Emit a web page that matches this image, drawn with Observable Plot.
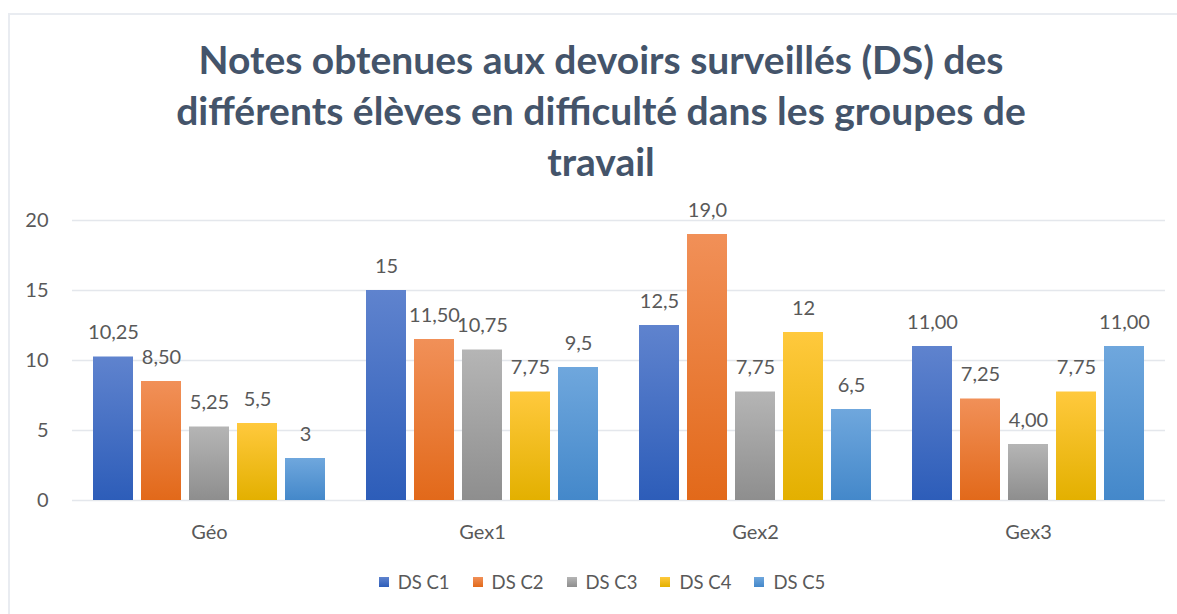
<!DOCTYPE html>
<html>
<head>
<meta charset="utf-8">
<script src="https://cdn.jsdelivr.net/npm/d3@7"></script>
<script src="https://cdn.jsdelivr.net/npm/@observablehq/plot@0.6"></script>
<style>
  html, body { margin: 0; padding: 0; background: #fff; }
  body { width: 1177px; height: 614px; overflow: hidden; position: relative; font-family: Lato, "Open Sans", sans-serif; }
  #frame { position: absolute; left: 8px; top: 13px; width: 1180px; height: 620px; border-left: 2px solid #E9ECF1; border-top: 2px solid #E9ECF1; box-sizing: border-box; }
  #title { position: absolute; left: 0; top: 34px; width: 1177px; padding-left: 25px; box-sizing: border-box; text-align: center; font-weight: 700; font-size: 39px; line-height: 51px; color: #44546A; white-space: nowrap; }
  #grid, #chart { position: absolute; left: 0; top: 190px; }
  #legend { position: absolute; left: 0; top: 571px; width: 1177px; padding-left: 27px; box-sizing: border-box; display: flex; justify-content: center; font-size: 18.5px; color: #595959; }
  .item { display: flex; align-items: center; margin: 0 11.5px; }
  .sw { width: 10px; height: 10px; margin-right: 9px; }
</style>
</head>
<body>
<svg width="0" height="0" style="position:absolute">
  <defs id="grads"></defs>
</svg>
<div id="frame"></div>
<div id="title">Notes obtenues aux devoirs surveillés (DS) des<br>différents élèves en difficulté dans les groupes de<br>travail</div>
<div id="grid"></div>
<div id="chart"></div>
<div id="legend"></div>
<script>
const groups = ["Géo", "Gex1", "Gex2", "Gex3"];
const seriesNames = ["DS C1", "DS C2", "DS C3", "DS C4", "DS C5"];
const dsC1 = [10.25, 15, 12.5, 11];
const dsC2 = [8.5, 11.5, 19, 7.25];
const dsC3 = [5.25, 10.75, 7.75, 4];
const dsC4 = [5.5, 7.75, 12, 7.75];
const dsC5 = [3, 9.5, 6.5, 11];
const labelsC1 = ["10,25", "15", "12,5", "11,00"];
const labelsC2 = ["8,50", "11,50", "19,0", "7,25"];
const labelsC3 = ["5,25", "10,75", "7,75", "4,00"];
const labelsC4 = ["5,5", "7,75", "12", "7,75"];
const labelsC5 = ["3", "9,5", "6,5", "11,00"];
const yTicks = [0, 5, 10, 15, 20];
// gradient stops (top, bottom) per series
const gradTop = ["#5F83CE", "#F19058", "#B5B5B5", "#FFC93D", "#6FA7DD"];
const gradBottom = ["#2D5DB9", "#E2691A", "#8E8E8E", "#E3B000", "#4488CA"];

const values = [dsC1, dsC2, dsC3, dsC4, dsC5];
const labels = [labelsC1, labelsC2, labelsC3, labelsC4, labelsC5];

// build gradient defs
const defs = document.getElementById("grads");
const ns = "http://www.w3.org/2000/svg";
seriesNames.forEach((s, i) => {
  const g = document.createElementNS(ns, "linearGradient");
  g.setAttribute("id", "grad" + i);
  g.setAttribute("x1", "0"); g.setAttribute("y1", "0");
  g.setAttribute("x2", "0"); g.setAttribute("y2", "1");
  [[0, gradTop[i]], [1, gradBottom[i]]].forEach(([o, c]) => {
    const st = document.createElementNS(ns, "stop");
    st.setAttribute("offset", o);
    st.setAttribute("stop-color", c);
    g.appendChild(st);
  });
  defs.appendChild(g);
});
const fills = seriesNames.map((s, i) => `url(#grad${i})`);

const data = [];
groups.forEach((g, gi) => {
  seriesNames.forEach((s, si) => {
    data.push({group: g, series: s, value: values[si][gi], label: labels[si][gi]});
  });
});

const common = {
  width: 1177,
  height: 370,
  marginLeft: 72,
  marginRight: 12,
  marginTop: 30,
  marginBottom: 60,
  style: {fontFamily: "Lato, 'Open Sans', sans-serif", fontSize: "20px", color: "#595959", background: "transparent"},
  y: {domain: [0, 20], ticks: yTicks, label: null}
};

// background layer: full-width gridlines and the y axis
const gridPlot = Plot.plot({
  ...common,
  marks: [
    Plot.ruleY(yTicks, {stroke: "#E4E7EC", strokeWidth: 1.5}),
    Plot.axisY(yTicks, {tickSize: 0, tickPadding: 24, label: null, fontSize: 20})
  ]
});
document.getElementById("grid").appendChild(gridPlot);

// foreground layer: grouped bars
const plot = Plot.plot({
  ...common,
  fx: {domain: groups, paddingInner: 0.135, paddingOuter: 0.0675, label: null},
  x: {domain: seriesNames, paddingInner: 0.16, paddingOuter: 0, axis: null},
  color: {domain: seriesNames, range: fills},
  marks: [
    Plot.axisY({ticks: [], label: null, tickSize: 0}),
    Plot.axisFx({anchor: "bottom", tickSize: 0, tickPadding: 24, label: null, fontSize: 20}),
    Plot.barY(data, {fx: "group", x: "series", y: "value", fill: "series"}),
    Plot.text(data, {fx: "group", x: "series", y: "value", text: "label", dy: -24, fill: "#595959", fontSize: 20})
  ]
});
document.getElementById("chart").appendChild(plot);

// legend
const legend = document.getElementById("legend");
seriesNames.forEach((s, i) => {
  const item = document.createElement("div");
  item.className = "item";
  const sw = document.createElement("div");
  sw.className = "sw";
  sw.style.background = `linear-gradient(${gradTop[i]}, ${gradBottom[i]})`;
  const t = document.createElement("span");
  t.textContent = s;
  item.appendChild(sw); item.appendChild(t);
  legend.appendChild(item);
});
</script>
</body>
</html>
